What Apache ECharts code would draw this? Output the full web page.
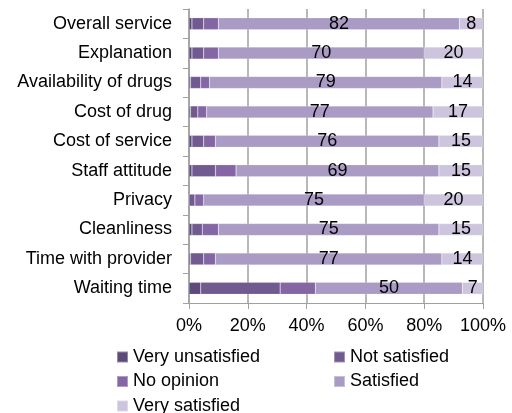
<!DOCTYPE html>
<html>
<head>
<meta charset="utf-8">
<script src="https://cdn.jsdelivr.net/npm/echarts@6/dist/echarts.min.js"></script>
<style>
  html, body { margin: 0; padding: 0; background: #fff; }
  #chart { width: 512px; height: 413px; }
</style>
</head>
<body>
<div id="chart"></div>
<script>
// categories, bottom to top (category axis starts at the bottom)
const categories = ['Waiting time', 'Time with provider', 'Cleanliness', 'Privacy', 'Staff attitude',
  'Cost of service', 'Cost of drug', 'Availability of drugs', 'Explanation', 'Overall service'];

const veryUnsatisfied = [4, 0.5, 1, 0, 1, 1, 0.5, 0.5, 1, 1];
const notSatisfied = [27, 4.5, 3.5, 2, 8, 4, 2.5, 3.5, 4, 4];
const noOpinion = [12, 4, 5.5, 3, 7, 4, 3, 3, 5, 5];
const satisfied = [50, 77, 75, 75, 69, 76, 77, 79, 70, 82];
const verySatisfied = [7, 14, 15, 20, 15, 15, 17, 14, 20, 8];

const xTicks = [0, 20, 40, 60, 80, 100];

const font = '"Liberation Sans", Arial, sans-serif';
const chart = echarts.init(document.getElementById('chart'));

function bar(name, data, color, showLabel) {
  return {
    name: name,
    type: 'bar',
    stack: 'total',
    barWidth: 12,
    data: data,
    itemStyle: { color: color, borderColor: 'rgba(255,255,255,0.35)', borderWidth: 0.5 },
    label: {
      show: showLabel,
      position: 'inside',
      color: '#000',
      fontFamily: font,
      fontSize: 18
    },
    animation: false
  };
}

const legendText = { fontSize: 18, lineHeight: 20, color: '#000', fontFamily: font };

chart.setOption({
  textStyle: { fontFamily: font },
  grid: { left: 189, right: 29, top: 9, bottom: 110 },
  legend: [
    {
      data: ['Very unsatisfied', 'No opinion', 'Very satisfied'],
      orient: 'vertical',
      left: 116,
      top: 347,
      height: 70,
      padding: 0,
      itemWidth: 11,
      itemHeight: 11,
      itemGap: 4.5,
      textStyle: legendText,
      icon: 'rect'
    },
    {
      data: ['Not satisfied', 'Satisfied'],
      orient: 'vertical',
      left: 333,
      top: 347,
      height: 70,
      padding: 0,
      itemWidth: 11,
      itemHeight: 11,
      itemGap: 4.5,
      textStyle: legendText,
      icon: 'rect'
    }
  ],
  xAxis: {
    type: 'value',
    min: xTicks[0],
    max: xTicks[xTicks.length - 1],
    interval: 20,
    axisLine: { show: true, lineStyle: { color: '#a0a0a0' } },
    axisTick: { show: true, length: 6, lineStyle: { color: '#a0a0a0' } },
    splitLine: { show: true, lineStyle: { color: '#a0a0a0', width: 1.5 } },
    axisLabel: { formatter: '{value}%', color: '#000', fontSize: 18, fontFamily: font, margin: 14 }
  },
  yAxis: {
    type: 'category',
    data: categories,
    axisLine: { show: true, lineStyle: { color: '#a0a0a0', width: 1.5 } },
    axisTick: { show: true, length: 6, lineStyle: { color: '#a0a0a0' } },
    axisLabel: { color: '#000', fontSize: 18, fontFamily: font, margin: 17 }
  },
  series: [
    bar('Very unsatisfied', veryUnsatisfied, '#5c4a7b', false),
    bar('Not satisfied', notSatisfied, '#705a90', false),
    bar('No opinion', noOpinion, '#8566a5', false),
    bar('Satisfied', satisfied, '#a99bc4', true),
    bar('Very satisfied', verySatisfied, '#cdc4de', true)
  ]
});
</script>
</body>
</html>
